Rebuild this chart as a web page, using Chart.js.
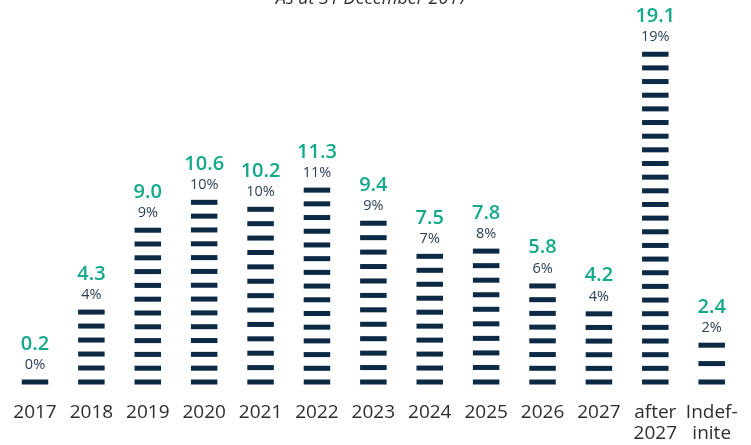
<!DOCTYPE html>
<html>
<head>
<meta charset="utf-8">
<script src="https://cdn.jsdelivr.net/npm/chart.js@4/dist/chart.umd.min.js"></script>
<style>
  html, body { margin: 0; padding: 0; background: #ffffff; }
  #wrap { width: 751px; height: 445px; }
</style>
</head>
<body>
<div id="wrap"><canvas id="c" width="751" height="445"></canvas></div>
<script>
// ---- data ----
const categories = ['2017', '2018', '2019', '2020', '2021', '2022', '2023', '2024', '2025', '2026', '2027', ['after', '2027'], ['Indef-', 'inite']];
const amounts = [0.2, 4.3, 9.0, 10.6, 10.2, 11.3, 9.4, 7.5, 7.8, 5.8, 4.2, 19.1, 2.4];
const shares = [0, 4, 9, 10, 10, 11, 9, 7, 8, 6, 4, 19, 2];
const subtitle = 'As at 31 December 2017';

// ---- styles ----
const NAVY = '#0c2945';
const GREEN = '#14a98b';
const PCT = '#2c3f56';
const AXIS_TXT = '#2e2e2e';
const STRIPE_H = 5;
const STRIPE_STEP = 13.5;

const stripePlugin = {
  id: 'stripes',
  afterDatasetsDraw(chart) {
    const ctx = chart.ctx;
    const meta = chart.getDatasetMeta(0);
    ctx.save();
    meta.data.forEach((el, i) => {
      const w = el.width;
      const base = el.base;
      const h = Math.max(base - el.y, STRIPE_H);
      const top = base - h;
      const n = Math.max(1, Math.floor((h - STRIPE_H) / STRIPE_STEP) + 1);
      const step = n > 1 ? (h - STRIPE_H) / (n - 1) : 0;
      ctx.fillStyle = NAVY;
      for (let k = 0; k < n; k++) {
        const yb = base - k * step;
        ctx.fillRect(el.x - w / 2, yb - STRIPE_H, w, STRIPE_H);
      }
      // labels
      ctx.textAlign = 'center';
      ctx.textBaseline = 'alphabetic';
      ctx.fillStyle = PCT;
      ctx.font = '14.5px "Open Sans"';
      ctx.fillText(shares[i] + '%', el.x, top - 10.5);
      ctx.fillStyle = GREEN;
      ctx.font = '600 20px "Open Sans"';
      ctx.fillText(amounts[i].toFixed(1), el.x, top - 30);
    });
    // subtitle (cut off at top as in the reference)
    ctx.fillStyle = '#333333';
    ctx.font = 'italic 18px "Open Sans"';
    ctx.textAlign = 'center';
    ctx.textBaseline = 'alphabetic';
    ctx.fillText(subtitle, 372, 3.5);
    ctx.restore();
  }
};

new Chart(document.getElementById('c'), {
  type: 'bar',
  data: {
    labels: categories,
    datasets: [{
      data: amounts,
      backgroundColor: 'rgba(0,0,0,0)',
      borderWidth: 0,
      barThickness: 26.5
    }]
  },
  options: {
    responsive: false,
    animation: false,
    layout: { padding: { left: 6.8, right: 11.1, top: 0, bottom: 0 } },
    plugins: {
      legend: { display: false },
      tooltip: { enabled: false },
      title: { display: false }
    },
    scales: {
      y: { display: false, min: 0, max: 22.07 },
      x: {
        grid: { display: false },
        border: { display: false },
        afterFit(scale) { scale.height = 60.5; },
        ticks: {
          autoSkip: false,
          maxRotation: 0,
          minRotation: 0,
          padding: 9,
          color: AXIS_TXT,
          font: { family: '"Open Sans"', size: 19, lineHeight: 1.13 }
        }
      }
    }
  },
  plugins: [stripePlugin]
});
</script>
</body>
</html>
